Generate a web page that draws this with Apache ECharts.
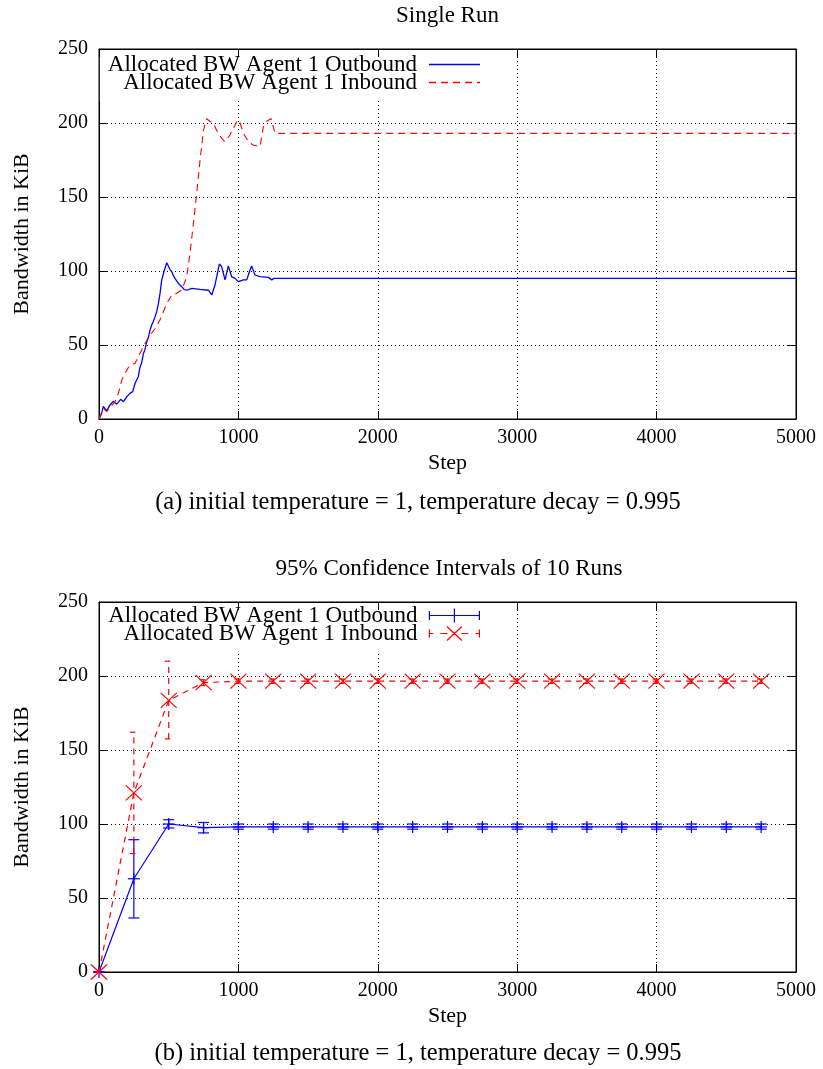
<!DOCTYPE html>
<html>
<head>
<meta charset="utf-8">
<script src="https://cdn.jsdelivr.net/npm/echarts@6/dist/echarts.min.js"></script>
<style>
  html, body { margin: 0; padding: 0; background: #ffffff; }
  #chart { width: 823px; height: 1069px; }
</style>
</head>
<body>
<div id="chart"></div>
<script>
// ---- Single run: allocated bandwidth per step ----
const singleOutSteps = [0, 19, 31, 43, 55, 67, 79, 91, 103, 115, 127, 139, 155, 175, 199, 222, 242, 258, 270, 282, 294, 306, 318, 330, 342, 354, 366, 378, 390, 402, 414, 426, 438, 450, 466, 486, 498, 510, 522, 533, 545, 557, 569, 593, 611, 629, 665, 725, 785, 809, 832, 863, 880, 904, 928, 952, 976, 1000, 1036, 1060, 1079, 1095, 1119, 1155, 1215, 1239, 1256, 5000];
const singleOut = [0, 3.8, 8.5, 9.5, 5.5, 6, 9.5, 8.3, 12, 11.7, 10, 9.5, 13.3, 11.7, 15, 17.3, 18.5, 24, 25, 28.6, 35, 38, 44, 47, 52, 55, 60, 63.5, 66, 69, 72.5, 78, 85, 94, 99.5, 105.6, 105, 101, 99.5, 97, 95, 94, 91.7, 89.4, 87.5, 87, 88.3, 87.6, 87, 83.8, 90.5, 104.7, 103, 94, 103.4, 96, 95, 92.8, 94, 94, 99.5, 103.4, 97.3, 96.2, 95.7, 94, 95, 95];

const singleInSteps = [0, 31, 55, 84, 115, 139, 163, 199, 222, 258, 294, 330, 366, 402, 438, 462, 486, 522, 557, 593, 629, 653, 677, 701, 725, 749, 773, 796, 820, 844, 880, 904, 940, 976, 995, 1012, 1036, 1072, 1107, 1155, 1179, 1203, 1234, 1263, 5000];
const singleIn = [0, 7.2, 5, 8.3, 11.7, 17.3, 26.3, 33, 36.5, 37.6, 44.4, 51, 56.7, 61, 67, 72.5, 78, 83.8, 85, 87, 96, 112, 132, 152.5, 175, 195, 203, 201, 200, 195, 189.6, 187.4, 192, 198.6, 202, 200, 193, 187.4, 185, 184, 197.5, 201, 203, 193, 193];

// ---- 10 runs: means with 95% confidence bounds ----
const ciSteps = [0, 250, 500, 750, 1000, 1250, 1500, 1750, 2000, 2250, 2500, 2750, 3000, 3250, 3500, 3750, 4000, 4250, 4500, 4750];
const ciOutMean = [0, 63, 100, 97.5, 98, 98, 98, 98, 98, 98, 98, 98, 98, 98, 98, 98, 98, 98, 98, 98];
const ciOutLow  = [0, 36.5, 97.3, 94, 96.5, 96.5, 96.5, 96.5, 96.5, 96.5, 96.5, 96.5, 96.5, 96.5, 96.5, 96.5, 96.5, 96.5, 96.5, 96.5];
const ciOutHigh = [0, 89.4, 102.9, 101, 100, 100, 100, 100, 100, 100, 100, 100, 100, 100, 100, 100, 100, 100, 100, 100];
const ciInMean = [0, 121, 183.5, 195.5, 196.5, 196.5, 196.5, 196.5, 196.5, 196.5, 196.5, 196.5, 196.5, 196.5, 196.5, 196.5, 196.5, 196.5, 196.5, 196.5];
const ciInLow  = [0, 80, 157.5, 193.5, 195, 195, 195, 195, 195, 195, 195, 195, 195, 195, 195, 195, 195, 195, 195, 195];
const ciInHigh = [0, 162, 210, 197.5, 198, 198, 198, 198, 198, 198, 198, 198, 198, 198, 198, 198, 198, 198, 198, 198];

// ---- axis ticks and texts ----
const yTicks = { min: 0, max: 250, interval: 50 };
const xTicks = { min: 0, max: 5000, interval: 1000 };
const seriesNames = ['Allocated BW Agent 1 Outbound', 'Allocated BW Agent 1 Inbound'];
const titles = ['Single Run', '95% Confidence Intervals of 10 Runs'];
const captions = ['(a) initial temperature = 1, temperature decay = 0.995', '(b) initial temperature = 1, temperature decay = 0.995'];
const xName = 'Step';
const yName = 'Bandwidth in KiB';

const FONT = '"Liberation Serif", "Times New Roman", serif';
const BLUE = '#0000ff';
const RED = '#ff0000';
const INK = '#000000';

const pairs = (xs, ys) => xs.map((x, i) => [x, ys[i]]);
const ciRows = (mean, lo, hi) => ciSteps.map((s, i) => [s, mean[i], lo[i], hi[i]]);

const chart = echarts.init(document.getElementById('chart'), null, { renderer: 'canvas' });

const gridBoxes = [
  { left: 99, top: 49, width: 697, height: 370 },
  { left: 99, top: 602, width: 697, height: 370 }
];

function mainXAxis(gridIndex) {
  return {
    type: 'value', gridIndex, position: 'bottom',
    min: xTicks.min, max: xTicks.max, interval: xTicks.interval,
    name: xName, nameLocation: 'middle', nameGap: 33,
    nameTextStyle: { fontFamily: FONT, fontSize: 22, color: INK },
    axisLine: { show: true, onZero: false, lineStyle: { color: INK, width: 1 } },
    axisTick: { show: true, inside: true, length: 8, lineStyle: { color: INK } },
    axisLabel: { fontFamily: FONT, fontSize: 20, color: INK, margin: 9, formatter: v => String(v) },
    splitLine: { show: true, lineStyle: { color: INK, type: [1, 3], width: 1 } }
  };
}
function mirrorXAxis(gridIndex) {
  return {
    type: 'value', gridIndex, position: 'top', z: 6,
    min: xTicks.min, max: xTicks.max, interval: xTicks.interval,
    axisLine: { show: true, onZero: false, lineStyle: { color: INK, width: 1 } },
    axisTick: { show: true, inside: true, length: 8, lineStyle: { color: INK } },
    axisLabel: { show: false },
    splitLine: { show: false }
  };
}
function mainYAxis(gridIndex) {
  return {
    type: 'value', gridIndex, position: 'left',
    min: yTicks.min, max: yTicks.max, interval: yTicks.interval,
    name: yName, nameLocation: 'middle', nameGap: 66, nameRotate: 90,
    nameTextStyle: { fontFamily: FONT, fontSize: 22, color: INK },
    axisLine: { show: true, onZero: false, lineStyle: { color: INK, width: 1 } },
    axisTick: { show: true, inside: true, length: 8, lineStyle: { color: INK } },
    axisLabel: { fontFamily: FONT, fontSize: 20, color: INK, margin: 11 },
    splitLine: { show: true, lineStyle: { color: INK, type: [1, 3], width: 1 } }
  };
}
function mirrorYAxis(gridIndex) {
  return {
    type: 'value', gridIndex, position: 'right', z: 6,
    min: yTicks.min, max: yTicks.max, interval: yTicks.interval,
    axisLine: { show: true, onZero: false, lineStyle: { color: INK, width: 1 } },
    axisTick: { show: true, inside: true, length: 8, lineStyle: { color: INK } },
    axisLabel: { show: false },
    splitLine: { show: false }
  };
}

// error bar with caps plus a point marker ('plus' or 'cross')
function errorBarItem(color, marker, dashed) {
  return function (params, api) {
    const x = api.value(0);
    const c = api.coord([x, api.value(1)]);
    const lo = api.coord([x, api.value(2)]);
    const hi = api.coord([x, api.value(3)]);
    const solid = { stroke: color, lineWidth: 1.2, fill: null };
    const bar = dashed ? Object.assign({}, solid, { lineDash: [6, 5] }) : solid;
    const capL = dashed ? 4 : 5.5;
    const capR = dashed ? 1.5 : 5.5;
    const kids = [
      { type: 'line', shape: { x1: lo[0], y1: lo[1], x2: hi[0], y2: hi[1] }, style: bar },
      { type: 'line', shape: { x1: lo[0] - capL, y1: lo[1], x2: lo[0] + capR, y2: lo[1] }, style: solid },
      { type: 'line', shape: { x1: hi[0] - capL, y1: hi[1], x2: hi[0] + capR, y2: hi[1] }, style: solid }
    ];
    if (marker === 'plus') {
      kids.push({ type: 'line', shape: { x1: c[0] - 6, y1: c[1], x2: c[0] + 6, y2: c[1] }, style: solid });
      kids.push({ type: 'line', shape: { x1: c[0], y1: c[1] - 6, x2: c[0], y2: c[1] + 6 }, style: solid });
    } else {
      kids.push({ type: 'line', shape: { x1: c[0] - 8, y1: c[1] - 7.5, x2: c[0] + 8, y2: c[1] + 7.5 }, style: solid });
      kids.push({ type: 'line', shape: { x1: c[0] - 8, y1: c[1] + 7.5, x2: c[0] + 8, y2: c[1] - 7.5 }, style: solid });
    }
    return { type: 'group', children: kids };
  };
}

const legendText = { fontFamily: FONT, fontSize: 23, color: INK, lineHeight: 18, padding: [0, 7, 0, 0] };
const strokeOnly = color => ({ color: 'rgba(0,0,0,0)', borderColor: color, borderWidth: 1.2 });

// legend samples: plain line, dashed line, line with error caps and markers
const solidIcon = 'path://M0,0L51,0L51,1.3L0,1.3Z';
const dashIcon = 'path://M0,0L7,0L7,1.3L0,1.3ZM12,0L19,0L19,1.3L12,1.3ZM24,0L31,0L31,1.3L24,1.3ZM36,0L43,0L43,1.3L36,1.3ZM48,0L51,0L51,1.3L48,1.3Z';
const outboundIcon = 'path://M0,2.5L0,11.5M0,7L50,7M50,2.5L50,11.5M25,0L25,14';
const inboundIcon = 'path://M0,3L0,11M0,7L4,7M11,7L18,7M17.5,0L32.5,14M17.5,14L32.5,0M32,7L39,7M46,7L50,7M50,3L50,11';

const option = {
  backgroundColor: '#ffffff',
  animation: false,
  grid: gridBoxes.map(g => Object.assign({ show: true, borderColor: INK, borderWidth: 1, backgroundColor: 'transparent' }, g)),
  xAxis: [mainXAxis(0), mirrorXAxis(0), mainXAxis(1), mirrorXAxis(1)],
  yAxis: [mainYAxis(0), mirrorYAxis(0), mainYAxis(1), mirrorYAxis(1)],
  legend: [
    {
      orient: 'vertical', align: 'right', right: 333, top: 50,
      padding: [3, 10, 7, 8], itemGap: -5, itemWidth: 51, itemHeight: 1.3,
      backgroundColor: '#ffffff', selectedMode: false,
      textStyle: legendText,
      data: [
        { name: seriesNames[0], icon: solidIcon, itemStyle: { color: BLUE, borderWidth: 0 } },
        { name: seriesNames[1], icon: dashIcon, itemStyle: { color: RED, borderWidth: 0 } }
      ]
    },
    {
      orient: 'vertical', align: 'right', right: 333, top: 603,
      padding: [1, 10, 7, 8], itemGap: -5, itemWidth: 50, itemHeight: 14,
      backgroundColor: '#ffffff', selectedMode: false,
      textStyle: legendText,
      data: [
        { name: seriesNames[0] + ' ', icon: outboundIcon, itemStyle: strokeOnly(BLUE) },
        { name: seriesNames[1] + ' ', icon: inboundIcon, itemStyle: strokeOnly(RED) }
      ],
      formatter: n => n.trim()
    }
  ],
  graphic: [
    { type: 'text', x: 447.5, y: 16, style: { text: titles[0], font: '23px ' + FONT, fill: INK, align: 'center', verticalAlign: 'middle' } },
    { type: 'text', x: 418, y: 503, style: { text: captions[0], font: '24.5px ' + FONT, fill: INK, align: 'center', verticalAlign: 'middle' } },
    { type: 'text', x: 449, y: 569, style: { text: titles[1], font: '23px ' + FONT, fill: INK, align: 'center', verticalAlign: 'middle' } },
    { type: 'text', x: 418, y: 1054, style: { text: captions[1], font: '24.5px ' + FONT, fill: INK, align: 'center', verticalAlign: 'middle' } }
  ],
  series: [
    {
      name: seriesNames[0], type: 'line', xAxisIndex: 0, yAxisIndex: 0,
      data: pairs(singleOutSteps, singleOut), symbol: 'none',
      lineStyle: { color: BLUE, width: 1.3 }, itemStyle: { color: BLUE }
    },
    {
      name: seriesNames[1], type: 'line', xAxisIndex: 0, yAxisIndex: 0,
      data: pairs(singleInSteps, singleIn), symbol: 'none',
      lineStyle: { color: RED, width: 1.1, type: [7, 5] }, itemStyle: { color: RED }
    },
    {
      name: seriesNames[0] + ' ', type: 'line', xAxisIndex: 2, yAxisIndex: 2,
      data: pairs(ciSteps, ciOutMean), symbol: 'none',
      lineStyle: { color: BLUE, width: 1.2 }, itemStyle: { color: BLUE }
    },
    {
      name: seriesNames[1] + ' ', type: 'line', xAxisIndex: 2, yAxisIndex: 2,
      data: pairs(ciSteps, ciInMean), symbol: 'none',
      lineStyle: { color: RED, width: 1.2, type: [6, 5] }, itemStyle: { color: RED }
    },
    {
      name: 'outbound-ci', type: 'custom', xAxisIndex: 2, yAxisIndex: 2,
      data: ciRows(ciOutMean, ciOutLow, ciOutHigh),
      renderItem: errorBarItem(BLUE, 'plus', false), clip: false, z: 3
    },
    {
      name: 'inbound-ci', type: 'custom', xAxisIndex: 2, yAxisIndex: 2,
      data: ciRows(ciInMean, ciInLow, ciInHigh),
      renderItem: errorBarItem(RED, 'cross', true), clip: false, z: 3
    }
  ]
};

chart.setOption(option);
</script>
</body>
</html>
